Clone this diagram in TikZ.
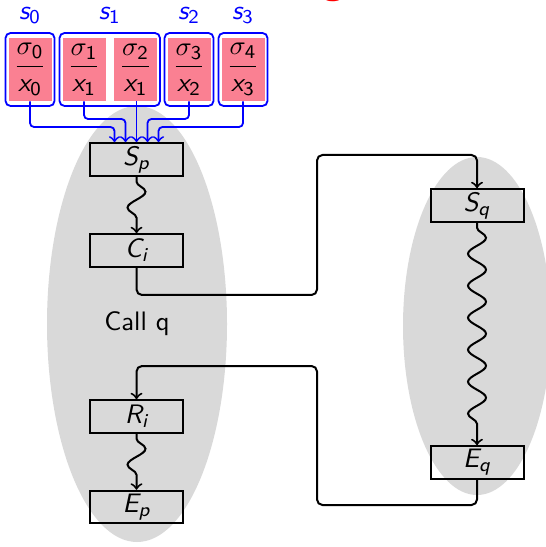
\documentclass[tikz,border=0pt]{standalone}
\usepackage{amsmath}
\usepackage{fontspec}
\usetikzlibrary{decorations.pathmorphing,fit}
\definecolor{cellpink}{RGB}{250,128,146}
\definecolor{ellgray}{RGB}{217,217,217}
\newcommand\mv[1]{\textsf{\itshape #1}}
\newcommand\mn[1]{\textsf{#1}}
\newcommand\pxu{0.41pt}
\begin{document}
\begin{tikzpicture}[x=\pxu,y=-\pxu,
  every node/.style={font=\fontsize{10.95}{13.6}\selectfont\sffamily},
  cell/.style={fill=cellpink, minimum width={43*\pxu}, minimum height={63*\pxu}, inner sep=0pt},
  grp/.style={draw=blue, line width={1.8*\pxu}, rounded corners={5*\pxu}, inner xsep={2.5*\pxu}, inner ysep={4.5*\pxu}},
  slab/.style={text=blue, anchor=south, inner sep=0pt},
  blk/.style={draw=black, line width={2*\pxu}, minimum width={93*\pxu}, minimum height={32.5*\pxu}, inner sep=0pt},
  link/.style={draw=black, line width={2*\pxu}, rounded corners={5.5*\pxu}, ->},
  blink/.style={draw=blue, line width={1.8*\pxu}, rounded corners={4*\pxu}, ->},
  wavy/.style={draw=black, line width={2*\pxu}, ->, decorate,
    decoration={snake, amplitude={9*\pxu}, segment length={32*\pxu}, pre length={5*\pxu}, post length={9*\pxu}}}
]
\useasboundingbox (0,0) rectangle (545,547);
% background blobs
\fill[ellgray] (137,324) ellipse [x radius={90*\pxu}, y radius={218*\pxu}];
\fill[ellgray] (477,326) ellipse [x radius={74*\pxu}, y radius={169*\pxu}];
% partially visible red title
\node[text=red, font=\Large\bfseries\sffamily, anchor=base, inner sep=0pt] (title) at (333,-5) {g};
% cells
\node[cell] (c0) at (30,69.5) {$\dfrac{\sigma_{\mn{0}}}{\mv{x}_{\mn{0}}}$};
\node[cell] (c1) at (84,69.5) {$\dfrac{\sigma_{\mn{1}}}{\mv{x}_{\mn{1}}}$};
\node[cell] (c2) at (135.5,69.5) {$\dfrac{\sigma_{\mn{2}}}{\mv{x}_{\mn{1}}}$};
\node[cell] (c3) at (189,69.5) {$\dfrac{\sigma_{\mn{3}}}{\mv{x}_{\mn{2}}}$};
\node[cell] (c4) at (243,69.5) {$\dfrac{\sigma_{\mn{4}}}{\mv{x}_{\mn{3}}}$};
% groups
\node[grp, fit=(c0)] (g0) {};
\node[grp, fit=(c1)(c2)] (g1) {};
\node[grp, fit=(c3)] (g2) {};
\node[grp, fit=(c4)] (g3) {};
\node[slab] (s0) at ([yshift={8*\pxu}]g0.north) {$\mv{s}_{\mn{0}}$};
\node[slab] (s1) at ([yshift={8*\pxu}]g1.north) {$\mv{s}_{\mn{1}}$};
\node[slab] (s2) at ([yshift={8*\pxu}]g2.north) {$\mv{s}_{\mn{2}}$};
\node[slab] (s3) at ([yshift={8*\pxu}]g3.north) {$\mv{s}_{\mn{3}}$};
% blocks
\node[blk] (Sp) at (136.5,159.5) {$\mv{S}_{\mv{p}}$};
\node[blk] (Ci) at (136.5,250.5) {$\mv{C}_{\mv{i}}$};
\node (call) at (137,324) {Call q};
\node[blk] (Ri) at (136.5,416.5) {$\mv{R}_{\mv{i}}$};
\node[blk] (Ep) at (136.5,507) {$\mv{E}_{\mv{p}}$};
\node[blk] (Sq) at (477,205.5) {$\mv{S}_{\mv{q}}$};
\node[blk] (Eq) at (477,462.5) {$\mv{E}_{\mv{q}}$};
% blue connectors
\draw[blink] (c0.south) |- (114.5,127) -- ([xshift={-22*\pxu}]Sp.north);
\draw[blink] (c1.south) |- (125.5,119) -- ([xshift={-11*\pxu}]Sp.north);
\draw[blink] (c2.south -| Sp.north) -- (Sp.north);
\draw[blink] (c3.south) |- (147.5,119) -- ([xshift={11*\pxu}]Sp.north);
\draw[blink] (c4.south) |- (158.5,127) -- ([xshift={22*\pxu}]Sp.north);
% wavy
\draw[wavy] (Sp.south) -- (Ci.north);
\draw[wavy] (Ri.south) -- (Ep.north);
\draw[wavy] (Sq.south) -- (Eq.north);
% call / return
\coordinate (k1) at (317,295);
\coordinate (k2) at (317,155);
\coordinate (k3) at (317,505);
\coordinate (k4) at (317,366);
\draw[link] (Ci.south) |- (k1) -- (k2) -| (Sq.north);
\draw[link] (Eq.south) |- (k3) -- (k4) -| (Ri.north);
\end{tikzpicture}
\end{document}
